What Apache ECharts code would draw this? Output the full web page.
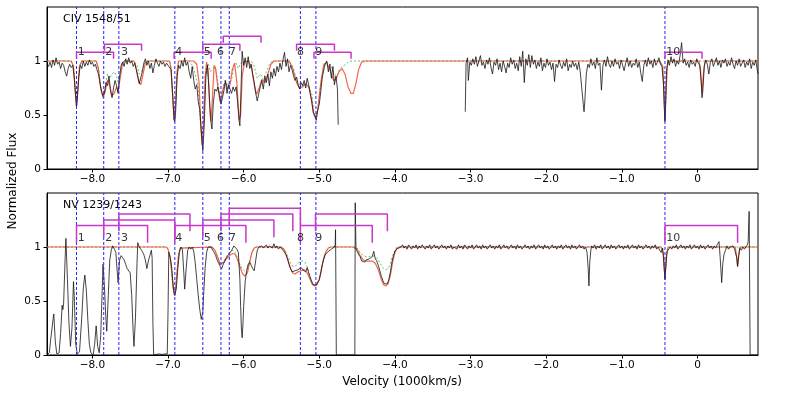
<!DOCTYPE html>
<html>
<head>
<meta charset="utf-8">
<script src="https://cdn.jsdelivr.net/npm/echarts@6/dist/echarts.min.js"></script>
<style>
  html, body { margin: 0; padding: 0; background: #fff; }
  #chart { width: 789px; height: 395px; }
</style>
</head>
<body>
<div id="chart"></div>
<script>
// velocity in 1000 km/s, flux normalized
const velTicks = [-8, -7, -6, -5, -4, -3, -2, -1, 0]
const fluxTicks = [0, 0.5, 1]

// component velocities (blue dashed lines) and their labels
const compVel = [-8.21, -7.85, -7.65, -6.91, -6.54, -6.30, -6.19, -5.25, -5.045, -0.43]
const compNames = ['1', '2', '3', '4', '5', '6', '7', '8', '9', '10']
const compLabelVel = [-8.20, -7.836, -7.628, -6.91, -6.535, -6.36, -6.20, -5.30, -5.06, -0.42]

// CIV doublet brackets
const civBracketStart = [-8.21, -7.84, -6.92, -6.54, -6.27, -5.30, -5.07, -0.43]
const civBracketEnd = [-7.72, -7.35, -6.43, -6.05, -5.77, -4.80, -4.58, 0.06]
const civBracketLevel = [1.08, 1.155, 1.08, 1.155, 1.23, 1.155, 1.08, 1.08]

// NV doublet brackets
const nvBracketStart = [-8.21, -7.85, -7.65, -6.91, -6.54, -6.30, -6.19, -5.25, -5.05, -0.43]
const nvBracketEnd = [-7.27, -6.91, -6.71, -5.97, -5.60, -5.35, -5.25, -4.30, -4.10, 0.53]
const nvBracketLevel = [1.20, 1.25, 1.305, 1.20, 1.25, 1.305, 1.358, 1.20, 1.305, 1.20]

// CIV observed flux (two pieces, gap between)
const civSpecA = [
  [-8.60, 0.97], [-8.58, 0.95], [-8.56, 0.99], [-8.54, 0.94], [-8.52, 1.01], [-8.50, 0.96], [-8.48, 1.03], [-8.46, 0.97],
  [-8.44, 0.99], [-8.42, 0.93], [-8.40, 0.98], [-8.38, 0.96], [-8.36, 0.90], [-8.34, 0.86], [-8.32, 0.93], [-8.30, 0.97],
  [-8.28, 0.94], [-8.26, 0.96], [-8.24, 0.85], [-8.22, 0.66], [-8.21, 0.58], [-8.20, 0.64], [-8.18, 0.86], [-8.16, 0.96],
  [-8.14, 0.93], [-8.12, 1.00], [-8.10, 0.95], [-8.08, 0.99], [-8.06, 0.96], [-8.04, 1.01], [-8.02, 0.97], [-8.00, 0.99],
  [-7.98, 0.95], [-7.96, 0.97], [-7.94, 0.92], [-7.92, 0.88], [-7.90, 0.80], [-7.88, 0.72], [-7.86, 0.68], [-7.84, 0.70],
  [-7.82, 0.80], [-7.80, 0.77], [-7.78, 0.86], [-7.76, 0.72], [-7.74, 0.66], [-7.72, 0.75], [-7.70, 0.82], [-7.68, 0.77],
  [-7.66, 0.70], [-7.64, 0.86], [-7.62, 0.96], [-7.60, 0.99], [-7.58, 0.95], [-7.56, 1.02], [-7.54, 0.97], [-7.52, 1.03],
  [-7.50, 0.98], [-7.48, 1.00], [-7.46, 0.95], [-7.44, 0.98], [-7.42, 0.92], [-7.40, 0.85], [-7.38, 0.79], [-7.36, 0.80],
  [-7.34, 0.90], [-7.32, 0.98], [-7.30, 1.02], [-7.28, 0.96], [-7.26, 1.00], [-7.24, 0.93], [-7.22, 0.98], [-7.20, 0.89],
  [-7.18, 0.96], [-7.16, 1.02], [-7.14, 0.98], [-7.12, 0.95], [-7.10, 1.00], [-7.08, 0.97], [-7.06, 0.99], [-7.04, 0.95],
  [-7.02, 0.98], [-7.00, 0.96], [-6.98, 0.97], [-6.96, 0.92], [-6.94, 0.70], [-6.92, 0.46], [-6.91, 0.44], [-6.90, 0.52],
  [-6.88, 0.85], [-6.86, 0.96], [-6.84, 0.93], [-6.82, 1.00], [-6.80, 0.95], [-6.78, 1.03], [-6.76, 0.96], [-6.74, 0.99],
  [-6.72, 0.90], [-6.70, 0.84], [-6.68, 0.95], [-6.66, 0.82], [-6.64, 0.74], [-6.62, 0.78], [-6.60, 0.62], [-6.58, 0.55],
  [-6.56, 0.35], [-6.54, 0.17], [-6.52, 0.42], [-6.50, 0.85], [-6.48, 0.96], [-6.46, 0.75], [-6.44, 0.48], [-6.42, 0.37],
  [-6.40, 0.62], [-6.38, 0.74], [-6.36, 0.72], [-6.34, 0.76], [-6.32, 0.68], [-6.30, 0.60], [-6.28, 0.66], [-6.26, 0.73],
  [-6.24, 0.82], [-6.22, 0.70], [-6.20, 0.78], [-6.18, 0.74], [-6.16, 0.70], [-6.14, 0.76], [-6.12, 0.72], [-6.10, 0.76],
  [-6.08, 0.62], [-6.06, 0.45], [-6.05, 0.40], [-6.04, 0.62], [-6.02, 1.09], [-6.00, 0.96], [-5.98, 1.03], [-5.96, 0.94],
  [-5.94, 1.04], [-5.92, 0.93], [-5.90, 0.97], [-5.88, 0.88], [-5.86, 0.80], [-5.84, 0.70], [-5.82, 0.63], [-5.80, 0.70],
  [-5.78, 0.76], [-5.76, 0.82], [-5.74, 0.74], [-5.72, 0.86], [-5.70, 0.80], [-5.68, 0.88], [-5.66, 0.77], [-5.64, 0.90],
  [-5.62, 0.84], [-5.60, 0.93], [-5.58, 0.86], [-5.56, 0.95], [-5.54, 0.90], [-5.52, 0.98], [-5.50, 0.92], [-5.48, 1.01],
  [-5.46, 1.08], [-5.44, 0.95], [-5.42, 1.02], [-5.40, 0.90], [-5.38, 0.96], [-5.36, 0.92], [-5.34, 0.86], [-5.32, 0.82],
  [-5.30, 0.85], [-5.28, 0.78], [-5.26, 0.74], [-5.24, 0.80], [-5.22, 0.77], [-5.20, 0.82], [-5.18, 0.75], [-5.16, 0.84],
  [-5.14, 0.78], [-5.12, 0.70], [-5.10, 0.62], [-5.08, 0.52], [-5.06, 0.50], [-5.04, 0.45], [-5.02, 0.55], [-5.00, 0.60],
  [-4.98, 0.72], [-4.96, 0.85], [-4.94, 0.92], [-4.92, 0.98], [-4.90, 1.00], [-4.88, 0.90], [-4.86, 0.97], [-4.84, 0.84],
  [-4.82, 0.95], [-4.80, 0.78], [-4.78, 0.86], [-4.76, 0.74], [-4.75, 0.41]
]
const civSpecB = [
  [-3.07, 0.53], [-3.06, 0.98], [-3.04, 1.03], [-3.03, 0.82], [-3.01, 0.99], [-2.99, 0.96], [-2.97, 1.02], [-2.95, 0.97],
  [-2.93, 1.04], [-2.91, 0.95], [-2.89, 1.00], [-2.87, 1.05], [-2.85, 0.96], [-2.83, 0.99], [-2.81, 0.93], [-2.79, 1.01],
  [-2.77, 0.97], [-2.75, 1.03], [-2.73, 0.94], [-2.71, 0.88], [-2.69, 0.99], [-2.67, 0.96], [-2.65, 1.02], [-2.63, 0.92],
  [-2.61, 0.98], [-2.59, 0.90], [-2.57, 1.00], [-2.55, 0.95], [-2.53, 0.89], [-2.51, 0.98], [-2.49, 0.94], [-2.47, 1.03],
  [-2.45, 0.97], [-2.43, 1.01], [-2.41, 0.93], [-2.39, 0.98], [-2.37, 0.91], [-2.35, 1.04], [-2.33, 0.95], [-2.31, 1.09],
  [-2.29, 0.80], [-2.27, 1.02], [-2.25, 0.96], [-2.23, 1.06], [-2.21, 0.94], [-2.19, 1.05], [-2.17, 0.97], [-2.15, 1.01],
  [-2.13, 0.93], [-2.11, 0.99], [-2.09, 0.95], [-2.07, 1.03], [-2.05, 0.91], [-2.03, 0.98], [-2.01, 0.94], [-1.99, 1.02],
  [-1.97, 0.96], [-1.95, 0.99], [-1.93, 0.92], [-1.91, 0.98], [-1.89, 0.81], [-1.87, 0.97], [-1.85, 0.94], [-1.83, 1.01],
  [-1.81, 0.96], [-1.79, 0.93], [-1.77, 0.99], [-1.75, 0.95], [-1.73, 1.02], [-1.71, 0.91], [-1.69, 0.97], [-1.67, 0.94],
  [-1.65, 1.00], [-1.63, 0.95], [-1.61, 0.98], [-1.59, 0.92], [-1.57, 0.99], [-1.55, 0.90], [-1.53, 0.75], [-1.51, 0.60],
  [-1.50, 0.53], [-1.49, 0.62], [-1.47, 0.88], [-1.45, 0.97], [-1.43, 0.94], [-1.41, 1.02], [-1.39, 0.96], [-1.37, 0.99],
  [-1.35, 0.93], [-1.33, 1.03], [-1.31, 0.96], [-1.29, 0.98], [-1.27, 0.73], [-1.25, 0.96], [-1.23, 1.01], [-1.21, 0.95],
  [-1.19, 1.04], [-1.17, 0.97], [-1.15, 0.94], [-1.13, 1.00], [-1.11, 0.95], [-1.09, 1.02], [-1.07, 0.97], [-1.05, 0.99],
  [-1.03, 0.93], [-1.01, 1.01], [-0.99, 0.96], [-0.97, 0.91], [-0.95, 0.98], [-0.93, 1.03], [-0.91, 0.95], [-0.89, 1.00],
  [-0.87, 0.94], [-0.85, 0.98], [-0.83, 0.96], [-0.81, 1.02], [-0.79, 0.94], [-0.77, 0.99], [-0.75, 0.89], [-0.73, 0.81],
  [-0.71, 0.96], [-0.69, 1.01], [-0.67, 0.95], [-0.65, 1.03], [-0.63, 0.97], [-0.61, 1.00], [-0.59, 0.94], [-0.57, 1.02],
  [-0.55, 0.96], [-0.53, 0.99], [-0.51, 1.03], [-0.49, 0.97], [-0.47, 0.95], [-0.45, 0.80], [-0.44, 0.58], [-0.43, 0.44],
  [-0.42, 0.62], [-0.41, 0.90], [-0.39, 1.01], [-0.37, 0.96], [-0.35, 1.04], [-0.33, 0.98], [-0.31, 1.02], [-0.29, 0.95],
  [-0.27, 1.00], [-0.25, 0.97], [-0.23, 1.05], [-0.21, 1.17], [-0.19, 0.98], [-0.17, 1.02], [-0.15, 0.96], [-0.13, 0.99],
  [-0.11, 0.94], [-0.09, 1.01], [-0.07, 0.97], [-0.05, 0.99], [-0.03, 0.95], [-0.01, 1.02], [0.01, 0.98], [0.03, 0.96],
  [0.05, 0.80], [0.06, 0.66], [0.07, 0.72], [0.09, 0.95], [0.11, 1.01], [0.13, 0.97], [0.15, 0.88], [0.17, 0.99],
  [0.19, 1.02], [0.21, 0.95], [0.23, 0.99], [0.25, 1.03], [0.27, 0.96], [0.29, 1.00], [0.31, 0.94], [0.33, 1.01],
  [0.35, 0.98], [0.37, 1.02], [0.39, 0.95], [0.41, 0.99], [0.43, 0.96], [0.45, 1.03], [0.47, 0.97], [0.49, 0.93],
  [0.51, 1.00], [0.53, 0.96], [0.55, 1.02], [0.57, 0.95], [0.59, 0.98], [0.61, 1.01], [0.63, 0.94], [0.65, 0.99],
  [0.67, 0.96], [0.69, 1.02], [0.71, 0.93], [0.73, 0.99], [0.75, 0.96], [0.77, 1.01], [0.79, 0.92], [0.80, 0.88]
]

// CIV fit: total (red) and first member only (green)
const civFit = [
  [-8.60, 1.00], [-8.28, 1.00], [-8.25, 0.95], [-8.23, 0.75], [-8.21, 0.58], [-8.19, 0.75], [-8.17, 0.95], [-8.14, 1.00],
  [-7.95, 1.00], [-7.92, 0.93], [-7.89, 0.75], [-7.86, 0.66], [-7.83, 0.72], [-7.80, 0.82], [-7.78, 0.80], [-7.74, 0.68],
  [-7.71, 0.70], [-7.68, 0.76], [-7.66, 0.72], [-7.63, 0.85], [-7.60, 0.98], [-7.58, 1.00], [-7.45, 1.00], [-7.42, 0.93],
  [-7.38, 0.80], [-7.36, 0.78], [-7.33, 0.88], [-7.30, 0.98], [-7.27, 1.00], [-6.98, 1.00], [-6.96, 0.93], [-6.94, 0.70],
  [-6.92, 0.45], [-6.90, 0.60], [-6.88, 0.90], [-6.86, 1.00], [-6.66, 1.00], [-6.62, 0.97], [-6.59, 0.80], [-6.57, 0.45],
  [-6.55, 0.22], [-6.53, 0.40], [-6.51, 0.85], [-6.49, 0.99], [-6.47, 0.92], [-6.45, 0.60], [-6.43, 0.44], [-6.41, 0.70],
  [-6.39, 0.96], [-6.37, 0.93], [-6.34, 0.75], [-6.31, 0.62], [-6.29, 0.63], [-6.26, 0.78], [-6.24, 0.80], [-6.21, 0.74],
  [-6.18, 0.78], [-6.15, 0.92], [-6.12, 0.98], [-6.09, 0.80], [-6.06, 0.45], [-6.04, 0.50], [-6.02, 0.85], [-5.99, 0.99],
  [-5.94, 1.00], [-5.90, 0.95], [-5.86, 0.78], [-5.83, 0.69], [-5.80, 0.74], [-5.76, 0.83], [-5.72, 0.80], [-5.68, 0.88],
  [-5.64, 0.97], [-5.60, 1.00], [-5.40, 1.00], [-5.35, 0.93], [-5.30, 0.80], [-5.26, 0.75], [-5.22, 0.76], [-5.18, 0.79],
  [-5.14, 0.76], [-5.10, 0.64], [-5.07, 0.50], [-5.05, 0.47], [-5.02, 0.55], [-4.98, 0.80], [-4.94, 0.97], [-4.90, 0.98],
  [-4.85, 0.90], [-4.81, 0.82], [-4.78, 0.83], [-4.74, 0.90], [-4.70, 0.93], [-4.66, 0.88], [-4.62, 0.76], [-4.58, 0.70],
  [-4.55, 0.70], [-4.52, 0.78], [-4.48, 0.92], [-4.44, 0.99], [-4.40, 1.00], [-0.50, 1.00], [-0.46, 0.95], [-0.44, 0.65],
  [-0.43, 0.45], [-0.42, 0.65], [-0.40, 0.95], [-0.38, 1.00], [0.02, 1.00], [0.04, 0.92], [0.06, 0.70], [0.08, 0.90],
  [0.10, 1.00], [0.80, 1.00]
]
const civFitFirst = [
  [-8.60, 1.00], [-8.28, 1.00], [-8.25, 0.95], [-8.23, 0.75], [-8.21, 0.58], [-8.19, 0.75], [-8.17, 0.95], [-8.14, 1.00],
  [-7.95, 1.00], [-7.92, 0.93], [-7.89, 0.75], [-7.86, 0.67], [-7.83, 0.76], [-7.80, 0.88], [-7.77, 0.84], [-7.74, 0.88],
  [-7.71, 0.90], [-7.68, 0.86], [-7.66, 0.80], [-7.63, 0.88], [-7.60, 0.98], [-7.58, 1.00], [-7.45, 1.00], [-7.41, 0.96],
  [-7.38, 0.88], [-7.35, 0.90], [-7.31, 0.98], [-7.27, 1.00], [-6.98, 1.00], [-6.96, 0.93], [-6.94, 0.70], [-6.92, 0.45],
  [-6.90, 0.60], [-6.88, 0.90], [-6.86, 1.00], [-6.72, 1.00], [-6.68, 0.96], [-6.64, 0.88], [-6.60, 0.75], [-6.57, 0.40],
  [-6.55, 0.25], [-6.53, 0.45], [-6.50, 0.90], [-6.47, 0.98], [-6.44, 0.90], [-6.41, 0.93], [-6.38, 0.95], [-6.35, 0.85],
  [-6.32, 0.70], [-6.30, 0.62], [-6.28, 0.68], [-6.25, 0.82], [-6.22, 0.77], [-6.19, 0.80], [-6.16, 0.82], [-6.13, 0.96],
  [-6.10, 0.98], [-6.07, 0.93], [-6.04, 0.98], [-6.00, 1.00], [-5.90, 1.00], [-5.86, 0.95], [-5.82, 0.84], [-5.78, 0.88],
  [-5.74, 0.83], [-5.70, 0.90], [-5.66, 0.97], [-5.62, 1.00], [-5.40, 1.00], [-5.35, 0.95], [-5.30, 0.82], [-5.25, 0.77],
  [-5.20, 0.79], [-5.15, 0.78], [-5.10, 0.70], [-5.07, 0.52], [-5.05, 0.48], [-5.02, 0.55], [-4.98, 0.78], [-4.94, 0.96],
  [-4.90, 0.99], [-4.86, 0.97], [-4.80, 0.88], [-4.77, 0.86], [-4.73, 0.93], [-4.69, 0.95], [-4.65, 0.97], [-4.60, 1.00],
  [-0.50, 1.00], [-0.46, 0.95], [-0.44, 0.65], [-0.43, 0.45], [-0.42, 0.65], [-0.40, 0.95], [-0.38, 1.00], [0.80, 1.00]
]

// NV observed flux
const nvSpec = [
  [-8.60, 0.00], [-8.57, 0.02], [-8.55, 0.15], [-8.52, 0.33], [-8.51, 0.38], [-8.49, 0.12], [-8.47, 0.01], [-8.44, 0.02],
  [-8.42, 0.20], [-8.40, 0.46], [-8.39, 0.42], [-8.38, 0.48], [-8.36, 0.90], [-8.35, 1.08], [-8.33, 0.70], [-8.31, 0.30],
  [-8.29, 0.08], [-8.27, 0.25], [-8.25, 0.68], [-8.24, 0.55], [-8.22, 0.10], [-8.20, 0.01], [-8.17, 0.03], [-8.14, 0.35],
  [-8.12, 0.62], [-8.10, 0.74], [-8.08, 0.60], [-8.06, 0.32], [-8.04, 0.10], [-8.02, 0.02], [-7.99, 0.00], [-7.97, 0.10],
  [-7.95, 0.27], [-7.93, 0.08], [-7.91, 0.02], [-7.89, 0.18], [-7.87, 0.60], [-7.86, 0.84], [-7.84, 0.62], [-7.82, 0.32],
  [-7.81, 0.22], [-7.79, 0.55], [-7.77, 0.88], [-7.75, 0.97], [-7.73, 1.01], [-7.71, 0.98], [-7.69, 0.95], [-7.68, 0.85],
  [-7.66, 0.67], [-7.64, 0.88], [-7.62, 0.92], [-7.60, 0.90], [-7.58, 0.88], [-7.56, 0.84], [-7.54, 0.80], [-7.52, 0.79],
  [-7.50, 0.76], [-7.48, 0.55], [-7.46, 0.20], [-7.45, 0.08], [-7.43, 0.35], [-7.41, 0.85], [-7.40, 1.04], [-7.38, 1.00],
  [-7.36, 0.98], [-7.34, 0.96], [-7.32, 0.93], [-7.30, 0.88], [-7.28, 0.80], [-7.26, 0.87], [-7.24, 0.92], [-7.22, 0.97],
  [-7.21, 0.90], [-7.20, 0.30], [-7.19, 0.005], [-7.16, 0.005], [-7.12, 0.01], [-7.08, 0.005], [-7.04, 0.01], [-7.01, 0.01],
  [-7.00, 0.40], [-6.99, 0.95], [-6.97, 0.90], [-6.95, 0.80], [-6.93, 0.62], [-6.91, 0.55], [-6.89, 0.62], [-6.87, 0.80],
  [-6.85, 0.95], [-6.83, 1.00], [-6.81, 0.98], [-6.79, 0.75], [-6.78, 0.61], [-6.76, 0.80], [-6.74, 0.97], [-6.72, 1.00],
  [-6.70, 0.98], [-6.68, 1.00], [-6.66, 0.96], [-6.64, 0.85], [-6.62, 0.70], [-6.60, 0.55], [-6.58, 0.42], [-6.56, 0.33],
  [-6.54, 0.40], [-6.53, 0.55], [-6.51, 0.80], [-6.49, 0.95], [-6.47, 1.00], [-6.45, 0.99], [-6.43, 1.00], [-6.41, 0.97],
  [-6.39, 0.95], [-6.37, 0.92], [-6.35, 0.88], [-6.33, 0.85], [-6.31, 0.82], [-6.29, 0.80], [-6.27, 0.84], [-6.25, 0.87],
  [-6.23, 0.90], [-6.21, 0.92], [-6.19, 0.94], [-6.17, 0.96], [-6.15, 0.98], [-6.13, 1.01], [-6.11, 1.00], [-6.09, 0.98],
  [-6.07, 0.95], [-6.05, 0.70], [-6.04, 0.45], [-6.03, 0.25], [-6.02, 0.16], [-6.01, 0.28], [-6.00, 0.45], [-5.98, 0.68],
  [-5.96, 0.78], [-5.94, 0.84], [-5.92, 0.86], [-5.90, 0.83], [-5.88, 0.80], [-5.86, 0.78], [-5.84, 0.88], [-5.82, 0.97],
  [-5.80, 1.00], [-5.78, 0.99], [-5.76, 1.01], [-5.74, 0.99], [-5.72, 1.00], [-5.70, 1.02], [-5.68, 0.99], [-5.66, 1.01],
  [-5.64, 1.00], [-5.62, 0.99], [-5.60, 1.03], [-5.58, 0.99], [-5.56, 1.01], [-5.54, 0.98], [-5.52, 1.00], [-5.50, 0.99],
  [-5.48, 0.97], [-5.46, 0.96], [-5.44, 0.93], [-5.42, 0.89], [-5.40, 0.84], [-5.38, 0.80], [-5.36, 0.77], [-5.34, 0.76],
  [-5.32, 0.78], [-5.30, 0.77], [-5.28, 0.79], [-5.26, 0.78], [-5.24, 0.81], [-5.22, 0.79], [-5.20, 0.80], [-5.18, 0.77],
  [-5.16, 0.81], [-5.14, 0.76], [-5.12, 0.72], [-5.10, 0.68], [-5.08, 0.65], [-5.06, 0.64], [-5.04, 0.65], [-5.02, 0.66],
  [-5.00, 0.70], [-4.98, 0.76], [-4.96, 0.84], [-4.94, 0.89], [-4.92, 0.93], [-4.90, 0.92], [-4.88, 0.96], [-4.86, 0.95],
  [-4.84, 0.98], [-4.82, 0.99], [-4.80, 1.00], [-4.79, 1.02], [-4.785, 1.16], [-4.775, 0.00], [-4.53, 0.00], [-4.525, 1.41],
  [-4.515, 0.98], [-4.50, 0.96], [-4.48, 0.93], [-4.46, 0.91], [-4.44, 0.87], [-4.42, 0.88], [-4.40, 0.86], [-4.38, 0.88],
  [-4.36, 0.87], [-4.34, 0.89], [-4.32, 0.88], [-4.30, 0.91], [-4.28, 0.96], [-4.26, 0.89], [-4.24, 0.87], [-4.22, 0.83],
  [-4.20, 0.78], [-4.18, 0.73], [-4.16, 0.69], [-4.14, 0.66], [-4.12, 0.65], [-4.10, 0.66], [-4.08, 0.70], [-4.06, 0.77],
  [-4.04, 0.86], [-4.02, 0.92], [-4.00, 0.96], [-3.98, 0.98], [-3.96, 0.99], [-3.92, 1.00], [-3.90, 1.02], [-3.88, 0.99],
  [-3.86, 1.01], [-3.84, 0.98], [-3.82, 1.02], [-3.80, 1.00], [-3.78, 0.98], [-3.76, 1.01], [-3.74, 0.99], [-3.72, 1.02],
  [-3.70, 0.98], [-3.68, 1.01], [-3.66, 0.99], [-3.64, 1.02], [-3.62, 1.00], [-3.60, 0.98], [-3.58, 1.01], [-3.56, 0.99],
  [-3.54, 1.02], [-3.52, 0.98], [-3.50, 1.00], [-3.48, 1.02], [-3.46, 0.99], [-3.44, 1.01], [-3.42, 0.98], [-3.40, 1.00],
  [-3.38, 1.02], [-3.36, 0.99], [-3.34, 1.01], [-3.32, 0.98], [-3.30, 1.01], [-3.28, 0.99], [-3.26, 1.02], [-3.24, 0.98],
  [-3.22, 1.00], [-3.20, 1.01], [-3.18, 0.98], [-3.16, 1.02], [-3.14, 0.99], [-3.12, 1.01], [-3.10, 0.98], [-3.08, 1.02],
  [-3.06, 1.00], [-3.04, 0.98], [-3.02, 1.01], [-3.00, 0.99], [-2.98, 1.02], [-2.96, 0.98], [-2.94, 1.00], [-2.92, 1.02],
  [-2.90, 0.99], [-2.88, 1.01], [-2.86, 0.98], [-2.84, 1.02], [-2.82, 0.99], [-2.80, 1.01], [-2.78, 0.98], [-2.76, 1.00],
  [-2.74, 1.02], [-2.72, 0.99], [-2.70, 1.01], [-2.68, 0.98], [-2.66, 1.01], [-2.64, 0.99], [-2.62, 1.02], [-2.60, 0.98],
  [-2.58, 1.00], [-2.56, 1.02], [-2.54, 0.99], [-2.52, 1.01], [-2.50, 0.98], [-2.48, 1.00], [-2.46, 1.02], [-2.44, 0.99],
  [-2.42, 1.01], [-2.40, 0.98], [-2.38, 1.02], [-2.36, 0.99], [-2.34, 1.01], [-2.32, 0.98], [-2.30, 1.00], [-2.28, 1.02],
  [-2.26, 0.99], [-2.24, 1.01], [-2.22, 0.98], [-2.20, 1.01], [-2.18, 0.99], [-2.16, 1.02], [-2.14, 0.98], [-2.12, 1.00],
  [-2.10, 1.02], [-2.08, 0.99], [-2.06, 1.01], [-2.04, 0.98], [-2.02, 1.02], [-2.00, 0.99], [-1.98, 1.01], [-1.96, 0.98],
  [-1.94, 1.00], [-1.92, 1.02], [-1.90, 0.99], [-1.88, 1.01], [-1.86, 0.98], [-1.84, 1.01], [-1.82, 0.99], [-1.80, 1.02],
  [-1.78, 0.98], [-1.76, 1.00], [-1.74, 1.02], [-1.72, 0.99], [-1.70, 1.01], [-1.68, 0.98], [-1.66, 1.02], [-1.64, 0.99],
  [-1.62, 1.01], [-1.60, 0.98], [-1.58, 1.00], [-1.56, 1.02], [-1.54, 0.99], [-1.52, 1.01], [-1.50, 0.98], [-1.48, 1.00],
  [-1.46, 0.95], [-1.445, 0.80], [-1.435, 0.64], [-1.425, 0.85], [-1.41, 0.97], [-1.40, 1.01], [-1.38, 0.99], [-1.36, 1.02],
  [-1.34, 0.98], [-1.32, 1.01], [-1.30, 0.99], [-1.28, 1.02], [-1.26, 0.98], [-1.24, 1.00], [-1.22, 1.02], [-1.20, 0.99],
  [-1.18, 1.01], [-1.16, 0.98], [-1.14, 1.02], [-1.12, 0.99], [-1.10, 1.01], [-1.08, 0.98], [-1.06, 1.00], [-1.04, 1.02],
  [-1.02, 0.99], [-1.00, 1.01], [-0.98, 0.98], [-0.96, 1.01], [-0.94, 0.99], [-0.92, 1.02], [-0.90, 0.98], [-0.88, 1.00],
  [-0.86, 1.02], [-0.84, 0.99], [-0.82, 1.01], [-0.80, 0.98], [-0.78, 1.02], [-0.76, 0.99], [-0.74, 1.01], [-0.72, 0.98],
  [-0.70, 1.00], [-0.68, 1.02], [-0.66, 0.99], [-0.64, 1.01], [-0.62, 0.98], [-0.60, 1.01], [-0.58, 0.99], [-0.56, 1.02],
  [-0.54, 0.98], [-0.52, 1.00], [-0.50, 0.97], [-0.48, 0.95], [-0.46, 0.99], [-0.445, 0.85], [-0.43, 0.70], [-0.415, 0.85],
  [-0.40, 0.96], [-0.38, 0.97], [-0.36, 1.00], [-0.34, 0.98], [-0.32, 1.01], [-0.30, 0.99], [-0.28, 1.02], [-0.26, 0.98],
  [-0.24, 1.00], [-0.22, 1.02], [-0.20, 0.99], [-0.18, 1.01], [-0.16, 0.98], [-0.14, 1.01], [-0.12, 0.99], [-0.10, 1.02],
  [-0.08, 0.98], [-0.06, 1.00], [-0.04, 1.02], [-0.02, 0.99], [0.00, 1.01], [0.02, 0.98], [0.04, 1.02], [0.06, 0.99],
  [0.08, 1.01], [0.10, 0.98], [0.12, 1.00], [0.14, 1.02], [0.16, 0.99], [0.18, 1.01], [0.20, 0.98], [0.22, 1.01],
  [0.24, 0.99], [0.26, 1.02], [0.27, 1.03], [0.285, 1.05], [0.30, 0.90], [0.32, 0.67], [0.335, 0.85], [0.35, 0.93],
  [0.37, 0.97], [0.39, 1.01], [0.41, 0.98], [0.43, 1.00], [0.45, 0.99], [0.47, 1.01], [0.49, 0.98], [0.51, 0.97],
  [0.52, 0.90], [0.53, 0.82], [0.545, 0.92], [0.56, 0.99], [0.58, 0.97], [0.60, 1.00], [0.62, 0.98], [0.64, 0.99],
  [0.66, 1.02], [0.67, 1.05], [0.683, 1.33], [0.696, 0.00], [0.80, 0.00]
]

const nvFit = [
  [-8.60, 1.00], [-7.02, 1.00], [-7.00, 0.98], [-6.97, 0.90], [-6.94, 0.68], [-6.92, 0.56], [-6.90, 0.60], [-6.88, 0.78],
  [-6.86, 0.93], [-6.84, 0.99], [-6.82, 1.00], [-6.42, 1.00], [-6.38, 0.97], [-6.34, 0.90], [-6.31, 0.84], [-6.29, 0.83],
  [-6.26, 0.86], [-6.23, 0.89], [-6.20, 0.91], [-6.17, 0.93], [-6.14, 0.94], [-6.11, 0.93], [-6.08, 0.88], [-6.05, 0.82],
  [-6.02, 0.76], [-5.99, 0.73], [-5.97, 0.72], [-5.95, 0.76], [-5.92, 0.86], [-5.89, 0.95], [-5.86, 0.99], [-5.83, 1.00],
  [-5.50, 1.00], [-5.46, 0.97], [-5.42, 0.89], [-5.38, 0.80], [-5.35, 0.76], [-5.32, 0.75], [-5.28, 0.77], [-5.24, 0.78],
  [-5.20, 0.79], [-5.16, 0.76], [-5.12, 0.70], [-5.09, 0.65], [-5.06, 0.64], [-5.03, 0.65], [-5.00, 0.70], [-4.97, 0.80],
  [-4.94, 0.90], [-4.91, 0.96], [-4.88, 0.99], [-4.85, 1.00], [-4.55, 1.00], [-4.50, 0.98], [-4.46, 0.92], [-4.42, 0.88],
  [-4.38, 0.87], [-4.34, 0.87], [-4.30, 0.87], [-4.26, 0.85], [-4.22, 0.79], [-4.18, 0.70], [-4.15, 0.65], [-4.12, 0.64],
  [-4.09, 0.66], [-4.06, 0.74], [-4.03, 0.86], [-4.00, 0.95], [-3.97, 0.99], [-3.94, 1.00], [-0.48, 1.00], [-0.45, 0.93],
  [-0.43, 0.70], [-0.41, 0.93], [-0.39, 1.00], [0.50, 1.00], [0.515, 0.92], [0.53, 0.82], [0.545, 0.92], [0.56, 1.00],
  [0.80, 1.00]
]
const nvFitFirst = [
  [-8.60, 1.00], [-7.02, 1.00], [-7.00, 0.98], [-6.97, 0.90], [-6.94, 0.68], [-6.92, 0.56], [-6.90, 0.60], [-6.88, 0.78],
  [-6.86, 0.93], [-6.84, 0.99], [-6.82, 1.00], [-6.42, 1.00], [-6.38, 0.97], [-6.34, 0.90], [-6.31, 0.84], [-6.29, 0.83],
  [-6.26, 0.87], [-6.23, 0.91], [-6.20, 0.94], [-6.17, 0.96], [-6.14, 0.97], [-6.11, 0.95], [-6.08, 0.90], [-6.05, 0.84],
  [-6.02, 0.80], [-5.99, 0.78], [-5.97, 0.78], [-5.95, 0.80], [-5.92, 0.88], [-5.89, 0.95], [-5.86, 0.99], [-5.83, 1.00],
  [-5.50, 1.00], [-5.46, 0.98], [-5.42, 0.92], [-5.38, 0.85], [-5.35, 0.82], [-5.32, 0.82], [-5.28, 0.85], [-5.24, 0.87],
  [-5.20, 0.87], [-5.16, 0.82], [-5.12, 0.72], [-5.09, 0.66], [-5.06, 0.64], [-5.03, 0.65], [-5.00, 0.70], [-4.97, 0.80],
  [-4.94, 0.90], [-4.91, 0.96], [-4.88, 0.99], [-4.85, 1.00], [-4.55, 1.00], [-4.50, 0.99], [-4.46, 0.95], [-4.42, 0.92],
  [-4.38, 0.91], [-4.34, 0.91], [-4.30, 0.92], [-4.26, 0.91], [-4.22, 0.88], [-4.18, 0.83], [-4.15, 0.80], [-4.12, 0.79],
  [-4.09, 0.80], [-4.06, 0.85], [-4.03, 0.92], [-4.00, 0.97], [-3.97, 1.00], [-0.48, 1.00], [-0.45, 0.93], [-0.43, 0.70],
  [-0.41, 0.93], [-0.39, 1.00], [0.80, 1.00]
]

const FONT = 'DejaVu Sans'
const myChart = echarts.init(document.getElementById('chart'))

function velLabel (v) {
  if (v === 0) return '0'
  return (v < 0 ? '\u2212' : '') + Math.abs(v).toFixed(1)
}

function makeXAxis (gi) {
  return {
    type: 'value', gridIndex: gi, min: -8.6, max: 0.8,
    axisLine: { show: true, onZero: false, lineStyle: { color: '#000', width: 1 } },
    axisTick: { show: true, customValues: velTicks, length: 3.5, lineStyle: { color: '#000' } },
    axisLabel: { customValues: velTicks, formatter: velLabel, color: '#000', fontSize: 10.5, fontFamily: FONT, margin: 5 },
    splitLine: { show: false }
  }
}
function makeYAxis (gi) {
  return {
    type: 'value', gridIndex: gi, min: 0, max: 1.5,
    axisLine: { show: true, onZero: false, lineStyle: { color: '#000', width: 1 } },
    axisTick: { show: true, customValues: fluxTicks, length: 3.5, lineStyle: { color: '#000' } },
    axisLabel: { customValues: fluxTicks, formatter: v => String(v), color: '#000', fontSize: 10.5, fontFamily: FONT, margin: 6 },
    splitLine: { show: false }
  }
}

function lineSeries (gi, data, style, z) {
  return {
    type: 'line', xAxisIndex: gi, yAxisIndex: gi, data: data,
    showSymbol: false, symbol: 'none', silent: true, z: z,
    lineStyle: style
  }
}

function bracketSeries (gi, starts, ends, levels, drop) {
  return starts.map((s, i) => {
    const e = ends[i]
    const h = levels[i]
    return lineSeries(gi, [[s, h - drop], [s, h], [e, h], [e, h - drop]],
      { color: '#c838c8', width: 1.5 }, 6)
  })
}

// one dashed vertical per component, full panel height
function compLines (gi) {
  return compVel.map(v => lineSeries(gi, [[v, 0], [v, 1.5]],
    { color: '#2424ff', width: 1, type: [3, 2] }, 5))
}

function compText (gi) {
  return {
    type: 'scatter', xAxisIndex: gi, yAxisIndex: gi, symbolSize: 1, silent: true, z: 7,
    itemStyle: { color: 'transparent' },
    label: { show: true, position: 'right', distance: 0, formatter: p => p.data[2], color: '#000', fontSize: 11, fontFamily: FONT },
    data: compLabelVel.map((v, i) => [v, 1.085, compNames[i]])
  }
}

const greenStyle = { color: '#55b455', width: 1, type: [2, 2], opacity: 0.85 }
const redStyle = { color: '#ee4a30', width: 1.2, opacity: 0.85 }
const blackStyle = { color: '#151515', width: 0.8 }

const option = {
  animation: false,
  backgroundColor: '#fff',
  grid: [
    { left: 47, right: 31, top: 7, height: 162, show: true, borderColor: '#000', borderWidth: 1 },
    { left: 47, right: 31, top: 193, height: 162, show: true, borderColor: '#000', borderWidth: 1 }
  ],
  xAxis: [makeXAxis(0), makeXAxis(1)],
  yAxis: [makeYAxis(0), makeYAxis(1)],
  graphic: [
    { type: 'text', left: 63, top: 14, style: { text: 'CIV 1548/51', fontSize: 11, fontFamily: FONT, fill: '#000' } },
    { type: 'text', left: 63, top: 200, style: { text: 'NV 1239/1243', fontSize: 11, fontFamily: FONT, fill: '#000' } },
    { type: 'text', x: 13, y: 181, rotation: Math.PI / 2,
      style: { text: 'Normalized Flux', fontSize: 12, fontFamily: FONT, fill: '#000', align: 'center', verticalAlign: 'middle' } },
    { type: 'text', x: 402, y: 382,
      style: { text: 'Velocity (1000km/s)', fontSize: 12, fontFamily: FONT, fill: '#000', align: 'center', verticalAlign: 'middle' } }
  ],
  series: [
    lineSeries(0, civFitFirst, greenStyle, 2),
    lineSeries(0, civFit, redStyle, 3),
    lineSeries(0, civSpecA, blackStyle, 4),
    lineSeries(0, civSpecB, blackStyle, 4),
    ...compLines(0),
    compText(0),
    ...bracketSeries(0, civBracketStart, civBracketEnd, civBracketLevel, 0.06),
    lineSeries(1, nvFitFirst, greenStyle, 2),
    lineSeries(1, nvFit, redStyle, 3),
    lineSeries(1, nvSpec, blackStyle, 4),
    ...compLines(1),
    compText(1),
    ...bracketSeries(1, nvBracketStart, nvBracketEnd, nvBracketLevel, 0.16)
  ]
}
myChart.setOption(option)
</script>
</body>
</html>
